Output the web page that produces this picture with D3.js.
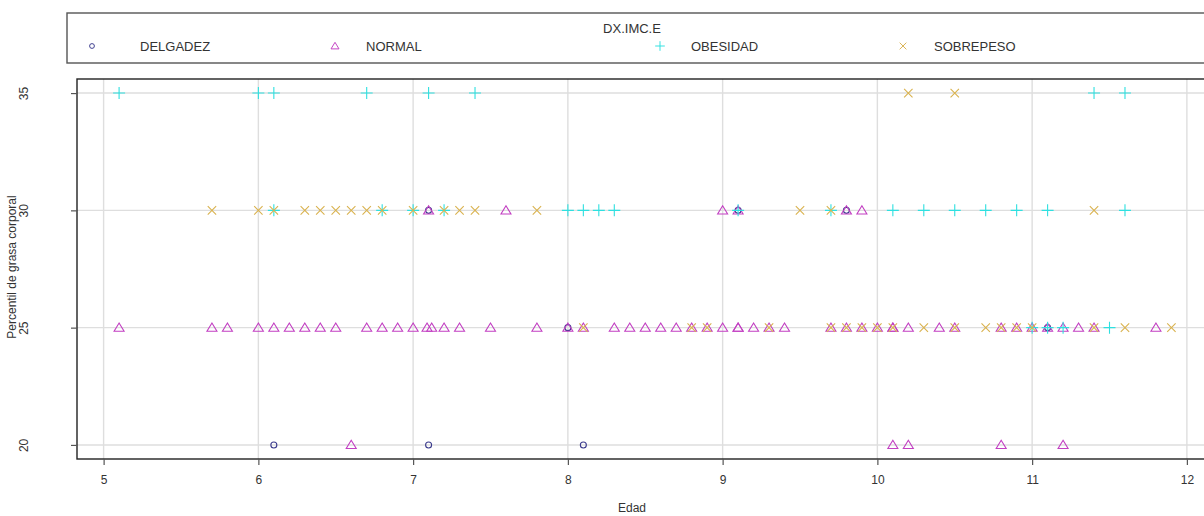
<!DOCTYPE html>
<html>
<head>
<meta charset="utf-8">
<script src="https://cdn.jsdelivr.net/npm/d3@7"></script>
<style>
body { margin: 0; background: #fff; }
text { font-family: "Liberation Sans", Arial, sans-serif; }
</style>
</head>
<body>
<div id="graph"></div>
<script>
// data: edad (x) and percentil (y) per group
var groups = ["DELGADEZ", "NORMAL", "OBESIDAD", "SOBREPESO"];

var delgadezEdad = [6.1, 7.1, 8.1, 8.0, 11.1, 7.1, 9.1, 9.8];
var delgadezPct  = [20, 20, 20, 25, 25, 30, 30, 30];

var normalEdad = [6.6, 10.1, 10.2, 10.8, 11.2,
    5.1, 5.7, 5.8, 6.0, 6.1, 6.2, 6.3, 6.4, 6.5, 6.7, 6.8, 6.9, 7.0, 7.09, 7.12, 7.2, 7.3, 7.5, 7.8,
    8.0, 8.1, 8.3, 8.4, 8.5, 8.6, 8.7, 8.8, 8.9, 9.0, 9.1, 9.1, 9.2, 9.3, 9.4, 9.7, 9.8, 9.9,
    10.0, 10.1, 10.1, 10.2, 10.4, 10.5, 10.8, 10.9, 11.0, 11.1, 11.2, 11.3, 11.4, 11.8,
    7.1, 7.6, 9.0, 9.1, 9.8, 9.9];
var normalPct = [20, 20, 20, 20, 20,
    25, 25, 25, 25, 25, 25, 25, 25, 25, 25, 25, 25, 25, 25, 25, 25, 25, 25, 25,
    25, 25, 25, 25, 25, 25, 25, 25, 25, 25, 25, 25, 25, 25, 25, 25, 25, 25,
    25, 25, 25, 25, 25, 25, 25, 25, 25, 25, 25, 25, 25, 25,
    30, 30, 30, 30, 30, 30];

var obesidadEdad = [11.0, 11.1, 11.2, 11.5,
    6.1, 6.8, 7.0, 7.2, 8.0, 8.1, 8.2, 8.3, 9.1, 9.7, 10.1, 10.3, 10.5, 10.7, 10.9, 11.1, 11.6,
    5.1, 6.0, 6.1, 6.7, 7.1, 7.4, 11.4, 11.6];
var obesidadPct = [25, 25, 25, 25,
    30, 30, 30, 30, 30, 30, 30, 30, 30, 30, 30, 30, 30, 30, 30, 30, 30,
    35, 35, 35, 35, 35, 35, 35, 35];

var sobrepesoEdad = [8.1, 8.8, 8.9, 9.3, 9.7, 9.8, 9.9, 10.0, 10.1, 10.3, 10.5, 10.7, 10.8, 10.9, 11.0, 11.4, 11.6, 11.9,
    5.7, 6.0, 6.1, 6.3, 6.4, 6.5, 6.6, 6.7, 6.8, 7.0, 7.2, 7.3, 7.4, 7.8, 9.5, 9.7, 11.4,
    10.2, 10.5];
var sobrepesoPct = [25, 25, 25, 25, 25, 25, 25, 25, 25, 25, 25, 25, 25, 25, 25, 25, 25, 25,
    30, 30, 30, 30, 30, 30, 30, 30, 30, 30, 30, 30, 30, 30, 30, 30, 30,
    35, 35];

var xTicks = [5, 6, 7, 8, 9, 10, 11, 12];
var yTicks = [20, 25, 30, 35];

var series = [
    {name: groups[0], edad: delgadezEdad, pct: delgadezPct, shape: "circle", color: "#3a3a8c"},
    {name: groups[1], edad: normalEdad, pct: normalPct, shape: "triangle", color: "#c23fc2"},
    {name: groups[2], edad: obesidadEdad, pct: obesidadPct, shape: "plus", color: "#2ee0e0"},
    {name: groups[3], edad: sobrepesoEdad, pct: sobrepesoPct, shape: "cross", color: "#d9b24e"}
];

var svgWidth = 1204;
var svgHeight = 516;

var $svg = d3.select("#graph")
    .append("svg")
    .attr("width", svgWidth)
    .attr("height", svgHeight);

var plotLeft = 77, plotTop = 79, plotBottom = 459, plotRight = 1213.5;

// R style 4% padding round the data range
var x = d3.scaleLinear().domain([4.828, 12.172]).range([plotLeft, plotRight]);
var y = d3.scaleLinear().domain([19.4, 35.6]).range([plotBottom, plotTop]);

function symbolPath(shape){
    switch (shape) {
        case "circle": return "M-3,0a3,3 0 1,0 6,0a3,3 0 1,0 -6,0";
        case "triangle": return "M0,-4.6L5,3.6L-5,3.6Z";
        case "plus": return "M-6,0H6M0,-6V6";
        default: return "M-4.2,-4.2L4.2,4.2M-4.2,4.2L4.2,-4.2";
    }
}

// grid
var $grid = $svg.append("g");
xTicks.forEach(d=>{
    $grid.append("line")
        .attr("x1", x(d)).attr("x2", x(d))
        .attr("y1", plotTop).attr("y2", plotBottom)
        .attr("stroke", "#dedede").attr("stroke-width", 1.4);
});
yTicks.forEach(d=>{
    $grid.append("line")
        .attr("x1", plotLeft).attr("x2", svgWidth)
        .attr("y1", y(d)).attr("y2", y(d))
        .attr("stroke", "#dedede").attr("stroke-width", 1.4);
});

// points
series.forEach(s=>{
    $svg.append("g").selectAll("path")
        .data(s.edad.map((d,i)=>[d, s.pct[i]]))
        .join("path")
        .attr("transform", d=>`translate(${x(d[0])},${y(d[1])})`)
        .attr("d", symbolPath(s.shape))
        .attr("fill", "none")
        .attr("stroke", s.color)
        .attr("stroke-width", 1.1);
});

// frame
$svg.append("rect")
    .attr("x", plotLeft).attr("y", plotTop)
    .attr("width", plotRight - plotLeft).attr("height", plotBottom - plotTop)
    .attr("fill", "none").attr("stroke", "#222").attr("stroke-width", 1.4);

// axes
var $xAxis = $svg.append("g")
    .attr("transform", `translate(0,${plotBottom})`)
    .call(d3.axisBottom(x).tickValues(xTicks).tickSize(6).tickPadding(10).tickFormat(d3.format("d")));
var $yAxis = $svg.append("g")
    .attr("transform", `translate(${plotLeft},0)`)
    .call(d3.axisLeft(y).tickValues(yTicks).tickSize(6).tickPadding(0).tickFormat(d3.format("d")));
[$xAxis, $yAxis].forEach(a=>{
    a.select(".domain").remove();
    a.selectAll(".tick line").attr("stroke", "#555").attr("stroke-width", 1.2);
    a.selectAll(".tick text").attr("fill", "#333").style("font-size", "12px")
        .style("font-family", "'Liberation Sans', Arial, sans-serif");
});
// rotated tick labels like R's las=0
$yAxis.selectAll(".tick text")
    .attr("x", 0).attr("y", 0)
    .attr("dy", "0.35em")
    .attr("text-anchor", "middle")
    .attr("transform", "translate(-53,0) rotate(-90)");

$svg.append("text")
    .attr("x", (plotLeft + 1187) / 2).attr("y", 512)
    .attr("text-anchor", "middle")
    .attr("fill", "#333").style("font-size", "12px")
    .text("Edad");

$svg.append("text")
    .attr("transform", `translate(16,${(plotTop + plotBottom) / 2 - 2}) rotate(-90)`)
    .attr("text-anchor", "middle")
    .attr("fill", "#333").style("font-size", "12px")
    .text("Percentil de grasa corporal");

// legend
var $legend = $svg.append("g");
$legend.append("rect")
    .attr("x", 67).attr("y", 13)
    .attr("width", 1150).attr("height", 50)
    .attr("fill", "#fff").attr("stroke", "#555").attr("stroke-width", 1.4);
$legend.append("text")
    .attr("x", 632).attr("y", 33)
    .attr("text-anchor", "middle")
    .attr("fill", "#333").style("font-size", "13px")
    .text("DX.IMC.E");

var legendSymX = [92, 335, 660, 903];
series.forEach((s,i)=>{
    $legend.append("path")
        .attr("transform", `translate(${legendSymX[i]},46) scale(0.8)`)
        .attr("d", symbolPath(s.shape))
        .attr("fill", "none")
        .attr("stroke", s.color)
        .attr("stroke-width", 1.2);
    $legend.append("text")
        .attr("x", legendSymX[i] + (i === 0 ? 48 : 31)).attr("y", 51)
        .attr("fill", "#333").style("font-size", "13px")
        .text(s.name);
});
</script>
</body>
</html>
